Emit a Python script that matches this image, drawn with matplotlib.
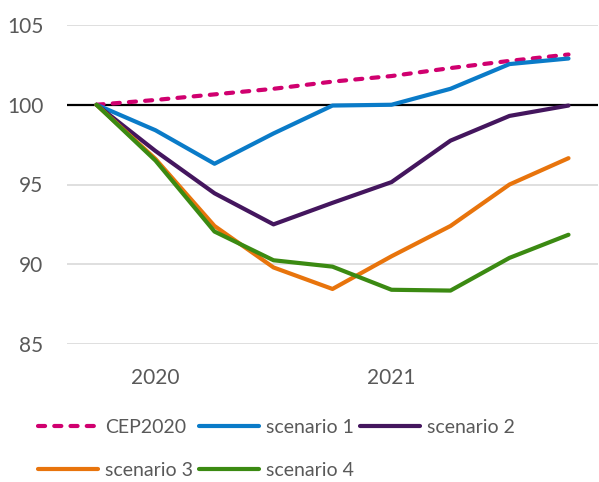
import matplotlib.pyplot as plt

# quarterly index values (9 points)
quarters = list(range(9))
year_pos = [1, 5]
year_labels = ["2020", "2021"]

cep2020 = [100, 100.3, 100.65, 101.0, 101.45, 101.8, 102.3, 102.75, 103.15]
scen1 = [100, 98.4, 96.3, 98.2, 99.95, 100.0, 101.0, 102.55, 102.9]
scen2 = [100, 97.1, 94.45, 92.5, 93.85, 95.15, 97.75, 99.3, 99.95]
scen3 = [100, 96.6, 92.4, 89.8, 88.45, 90.5, 92.4, 95.0, 96.65]
scen4 = [100, 96.5, 92.05, 90.25, 89.85, 88.4, 88.35, 90.4, 91.85]

yticks = [85, 90, 95, 100, 105]

plt.rcParams['font.family'] = ['Lato', 'DejaVu Sans']
txt = '#595959'

fig = plt.figure(figsize=(5.99, 4.82), dpi=100)
ax = fig.add_axes([67 / 599, 1 - 344 / 482, 531 / 599, 319 / 482])

for y in yticks:
    if y == 100:
        ax.axhline(y, color='black', lw=1.6, zorder=1)
    else:
        ax.axhline(y, color='#d9d9d9', lw=1.2, zorder=0)

lw = 3.0
l0, = ax.plot(quarters, cep2020, color='#d0006f', lw=lw, linestyle=(0, (1.7, 2.2)),
              dash_capstyle='round', solid_capstyle='round', label='CEP2020', zorder=3)
l1, = ax.plot(quarters, scen1, color='#0a7bc8', lw=lw, solid_capstyle='round', label='scenario 1', zorder=3)
l2, = ax.plot(quarters, scen2, color='#44165e', lw=lw, solid_capstyle='round', label='scenario 2', zorder=3)
l3, = ax.plot(quarters, scen3, color='#e8740c', lw=lw, solid_capstyle='round', label='scenario 3', zorder=3)
l4, = ax.plot(quarters, scen4, color='#3b8a12', lw=lw, solid_capstyle='round', label='scenario 4', zorder=3)

ax.set_xlim(-0.5, 8.5)
ax.set_ylim(85, 105)
ax.set_yticks(yticks)
ax.set_xticks(year_pos)
ax.set_xticklabels(year_labels)
ax.tick_params(length=0, labelsize=15, colors=txt)
ax.tick_params(axis='y', pad=17)
ax.tick_params(axis='x', pad=17)
for s in ax.spines.values():
    s.set_visible(False)

# reorder so the column-major legend reads row by row
handles = [l0, l3, l1, l4, l2]
leg = fig.legend(handles, [h.get_label() for h in handles], ncol=3,
                 loc='upper left', bbox_to_anchor=(38 / 599, 1 - 419 / 482),
                 frameon=False, fontsize=14, handlelength=3.1, handletextpad=0.36,
                 columnspacing=0.3, labelspacing=1.35, borderaxespad=0, borderpad=0)
for t in leg.get_texts():
    t.set_color(txt)

fig.savefig('out.png', dpi=100)
